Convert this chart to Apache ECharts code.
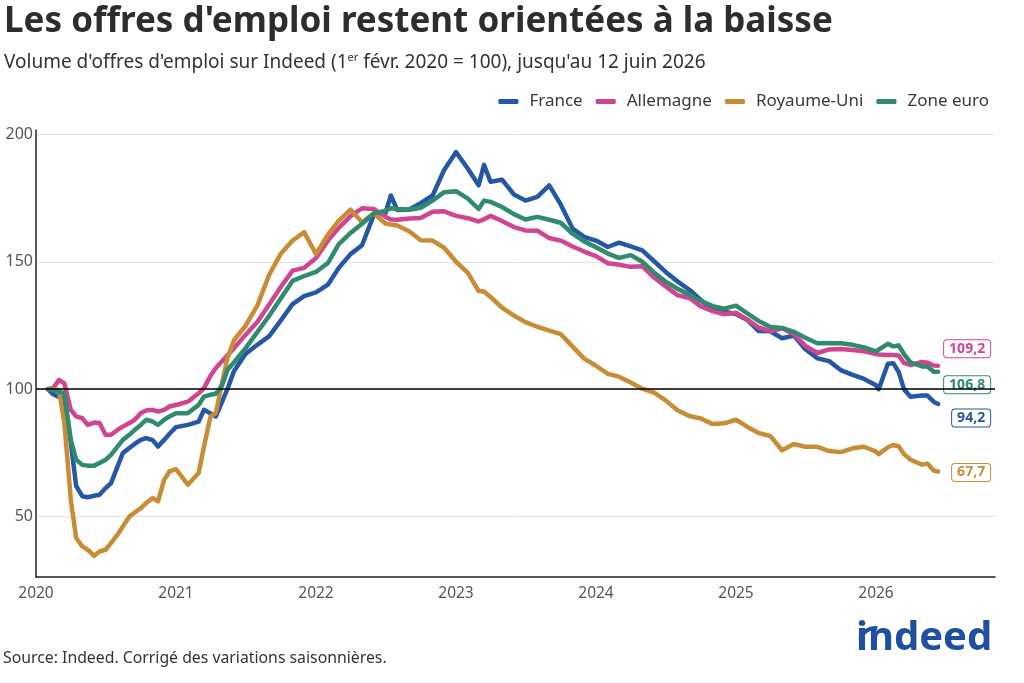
<!DOCTYPE html>
<html>
<head>
<meta charset="utf-8">
<script src="https://cdn.jsdelivr.net/npm/echarts@6/dist/echarts.min.js"></script>
<style>
  html, body { margin: 0; padding: 0; background: #fff; }
  #chart { width: 1024px; height: 683px; }
</style>
</head>
<body>
<div id="chart"></div>
<script>
// dates of the readings (1er févr. 2020 = 100)
const dates = [
  "2020-02-01","2020-02-15","2020-03-01","2020-03-15","2020-04-01","2020-04-15","2020-05-01","2020-05-15",
  "2020-06-01","2020-06-15","2020-07-01","2020-07-15","2020-08-01","2020-08-15","2020-09-01","2020-09-15",
  "2020-10-01","2020-10-15","2020-11-01","2020-11-15","2020-12-01","2020-12-15",
  "2021-01-01","2021-02-01","2021-03-01","2021-03-15","2021-04-01","2021-04-15","2021-05-01","2021-05-15",
  "2021-06-01","2021-07-01","2021-08-01","2021-09-01","2021-10-01","2021-11-01","2021-12-01",
  "2022-01-01","2022-02-01","2022-03-01","2022-04-01","2022-05-01","2022-06-01","2022-07-01","2022-07-15",
  "2022-08-01","2022-09-01","2022-10-01","2022-11-01","2022-12-01",
  "2023-01-01","2023-02-01","2023-03-01","2023-03-15","2023-04-01","2023-05-01","2023-06-01","2023-07-01",
  "2023-08-01","2023-09-01","2023-10-01","2023-11-01","2023-12-01",
  "2024-01-01","2024-02-01","2024-03-01","2024-04-01","2024-05-01","2024-06-01","2024-07-01","2024-08-01",
  "2024-09-01","2024-10-01","2024-11-01","2024-12-01",
  "2025-01-01","2025-02-01","2025-03-01","2025-04-01","2025-05-01","2025-06-01","2025-07-01","2025-08-01",
  "2025-09-01","2025-10-01","2025-11-01","2025-12-01",
  "2026-01-01","2026-01-08","2026-02-01","2026-02-15","2026-03-01","2026-03-15","2026-04-01","2026-05-01",
  "2026-05-15","2026-06-01","2026-06-12"
];

const france = [
  100, 98, 97, 96, 79, 62, 58, 57.6, 58.2, 58.6, 61.2, 63.1, 69.6, 74.9, 76.9, 78.5, 80.1, 80.8, 80, 77.5, 80.1, 82.5,
  85.1, 86, 87.3, 91.9, 90.5, 89.3, 95, 100, 107, 113.8, 117.4, 120.8, 126.9, 133.4, 136.5,
  138, 141, 147.5, 153, 156.5, 168.5, 169, 176, 170.3, 170.5, 173, 176, 186,
  193, 186.5, 180, 188, 181.4, 182.2, 176.4, 174, 175.5, 180, 172.5, 163, 159.8,
  158.3, 155.8, 157.5, 156, 154.5, 150.2, 146, 142.3, 139, 135, 131, 130.4,
  129.5, 127, 122.8, 122.7, 120, 121, 115.7, 112.1, 111, 107.5, 105.6, 104,
  101.5, 100, 110, 110.2, 106.8, 100, 97, 97.5, 97.5, 95, 94.2
];

const allemagne = [
  100, 100.5, 103.6, 102.3, 91.9, 89.3, 88.6, 86, 86.9, 86.7, 82.1, 82.1, 84, 85.3, 86.7, 88, 90.6, 91.6, 91.9, 91.2, 91.9, 93.2,
  93.8, 95.1, 98.4, 100.4, 105.3, 108.3, 111, 113.3, 116, 121.3, 126.4, 133.2, 140.1, 146.5, 147.6,
  151.5, 158.3, 163.2, 167.9, 171, 170.7, 167.7, 166.6, 166.5, 167, 167.2, 169.6, 169.8,
  168, 167.1, 165.8, 166.7, 168, 166, 163.6, 162.3, 162.2, 159.3, 158.3, 156, 154,
  152.2, 149.4, 148.8, 148, 148.2, 143.8, 140.3, 136.9, 135.8, 132.5, 130.6, 129.4,
  130, 127.2, 124.2, 122.7, 123.9, 121.6, 117, 114.2, 115.6, 115.8, 115.4, 114.9,
  113.8, 113.6, 113.4, 113.4, 113.2, 110.3, 109.5, 110.7, 110.4, 109.3, 109.2
];

const royaumeUni = [
  100, 100, 99.7, 87, 56.6, 41.6, 38.3, 37, 34.6, 36.3, 37, 39.6, 42.9, 46.1, 50, 51.6, 53.3, 55.3, 57.3, 56, 64.4, 67.7,
  68.6, 62.5, 67.1, 77.5, 89.3, 90.6, 102.5, 112, 119.2, 124.8, 132.8, 144.9, 153.1, 158.3, 161.6,
  153, 160.6, 166, 170.5, 165.5, 169, 165, 164.6, 164.2, 162, 158.4, 158.3, 155.5,
  150, 145.6, 138.5, 138.3, 136.2, 132, 128.9, 126.3, 124.5, 123, 121.6, 116.7, 112,
  109.2, 106, 104.9, 102.6, 100.2, 98.6, 95.6, 91.7, 89.5, 88.5, 86.3, 86.6,
  88, 85.1, 82.8, 81.6, 76, 78.5, 77.4, 77.4, 75.7, 75.3, 76.8, 77.4,
  75.5, 74.5, 77.2, 78.1, 77.6, 74.5, 72.3, 70.4, 70.8, 68, 67.7
];

const zoneEuro = [
  100, 99.6, 99, 98.4, 80.1, 72.3, 70.3, 70, 70, 71, 72.3, 74.2, 77.5, 80.1, 82.1, 84, 86, 88, 87.3, 86, 88, 89.3,
  90.6, 90.6, 93.8, 97.1, 97.8, 98.2, 101.5, 107.5, 110.5, 116, 122.4, 128.8, 135.6, 142.5, 144.4,
  146, 149.5, 156.8, 161.3, 164.9, 169, 170, 171, 170.7, 170.4, 171.2, 174, 177.3,
  177.7, 174.8, 170.7, 174, 173.5, 171.5, 168.7, 166.6, 167.6, 166.5, 165.3, 161, 158,
  155.7, 153.2, 151.5, 152.6, 150, 145.7, 142.2, 139.4, 137.1, 134.7, 132.6, 131.6,
  132.8, 129.6, 126.8, 124.4, 124, 122.5, 120.2, 118, 118, 118, 117.4, 116.4,
  114.8, 115.5, 117.8, 116.8, 117.2, 113.8, 110.5, 108.9, 108.9, 106.8, 106.8
];

const yearTicks = [2020, 2021, 2022, 2023, 2024, 2025, 2026];

const FONT = "'Noto Sans', sans-serif";

// date string -> fractional year, so the value axis can place it
function yearFrac(s) {
  const p = s.split("-").map(Number);
  const start = Date.UTC(p[0], 0, 1);
  const end = Date.UTC(p[0] + 1, 0, 1);
  return p[0] + (Date.UTC(p[0], p[1] - 1, p[2]) - start) / (end - start);
}
const xs = dates.map(yearFrac);
const pairs = vals => vals.map((v, i) => [xs[i], v]);
const fmt = v => v.toFixed(1).replace(".", ",");

function makeSeries(name, vals, color, dy) {
  return {
    name: name,
    type: "line",
    data: pairs(vals),
    showSymbol: false,
    symbol: "none",
    lineStyle: { width: 4.5, color: color, cap: "round", join: "round" },
    itemStyle: { color: color },
    emphasis: { disabled: true },
    endLabel: {
      show: true,
      formatter: p => fmt(p.value[1]),
      color: color,
      fontFamily: FONT,
      fontSize: 14,
      fontWeight: "bold",
      backgroundColor: "#fff",
      borderColor: color,
      borderWidth: 1,
      borderRadius: 3,
      padding: [2, 5, 1, 5],
      align: "right",
      offset: [44, dy]
    }
  };
}

var myChart = echarts.init(document.getElementById("chart"));

const seriesList = [
  makeSeries("France", france, "#2557a7", 14),
  makeSeries("Allemagne", allemagne, "#cf4591", -17),
  makeSeries("Royaume-Uni", royaumeUni, "#c98c36", 1),
  makeSeries("Zone euro", zoneEuro, "#2f8a6e", 13)
];
// ligne de référence à 100
seriesList[0].markLine = {
  silent: true,
  symbol: "none",
  label: { show: false },
  lineStyle: { color: "#000", width: 1.5, type: "solid" },
  data: [{ yAxis: 100 }]
};

var option = {
  animation: false,
  backgroundColor: "#fff",
  textStyle: { fontFamily: FONT },
  title: [
    {
      text: "Les offres d'emploi restent orientées à la baisse",
      left: 0,
      top: 0,
      padding: [5, 4],
      textStyle: { fontFamily: FONT, fontSize: 35, fontWeight: "bold", color: "#2d2d2d" }
    },
    {
      text: "{m|Volume d'offres d'emploi sur Indeed (1}{s|er}{m| févr. 2020 = 100), jusqu'au 12 juin 2026}",
      left: 0,
      top: 50,
      padding: [0, 4],
      textStyle: {
        fontWeight: "normal",
        rich: {
          m: { fontFamily: FONT, fontSize: 19, fontWeight: "normal", color: "#333", lineHeight: 26 },
          s: { fontFamily: FONT, fontSize: 11, fontWeight: "normal", color: "#333", lineHeight: 26, verticalAlign: "top", padding: [2, 0, 0, 0] }
        }
      }
    }
  ],
  legend: {
    data: ["France", "Allemagne", "Royaume-Uni", "Zone euro"],
    right: 30,
    top: 88,
    icon: "roundRect",
    itemWidth: 20,
    itemHeight: 5,
    itemGap: 13,
    textStyle: { fontFamily: FONT, fontSize: 17, color: "#3a3a3a", padding: [0, 0, 0, 6] }
  },
  grid: { left: 36, right: 29, top: 130, bottom: 106, containLabel: false },
  xAxis: {
    type: "value",
    min: yearTicks[0],
    max: 2026.85,
    interval: 1,
    axisLine: { lineStyle: { color: "#222", width: 1.5 } },
    axisTick: { show: false },
    splitLine: { show: false },
    axisLabel: {
      color: "#555",
      fontSize: 15.5,
      margin: 9,
      showMaxLabel: false,
      formatter: v => (yearTicks.indexOf(v) >= 0 ? String(v) : "")
    }
  },
  yAxis: {
    type: "value",
    min: 26.3,
    max: 201.7,
    splitNumber: 4,
    minInterval: 50,
    maxInterval: 50,
    axisLine: { show: true, lineStyle: { color: "#222", width: 1.5 } },
    axisTick: { show: false },
    splitLine: { show: true, showMinLine: false, showMaxLine: false, lineStyle: { color: "#e4e4e4", width: 1 } },
    axisLabel: { color: "#555", fontSize: 16, margin: 3, showMinLabel: false, showMaxLabel: false }
  },
  graphic: [
    {
      type: "text",
      left: 3,
      top: 650,
      style: { text: "Source: Indeed. Corrigé des variations saisonnières.", fontFamily: FONT, fontSize: 15.8, fill: "#333" }
    },
    {
      type: "text",
      left: 856,
      top: 619,
      style: { text: "indeed", fontFamily: FONT, fontSize: 40, fontWeight: "bold", fill: "#1f4fa3" }
    },
    {
      type: "arc",
      shape: { cx: 875, cy: 643, r: 15, startAngle: Math.PI * 1.08, endAngle: Math.PI * 1.55 },
      style: { stroke: "#1f4fa3", lineWidth: 4, fill: null }
    }
  ],
  series: seriesList
};

// 使用刚指定的配置项和数据显示图表。
myChart.setOption(option);
</script>
</body>
</html>
